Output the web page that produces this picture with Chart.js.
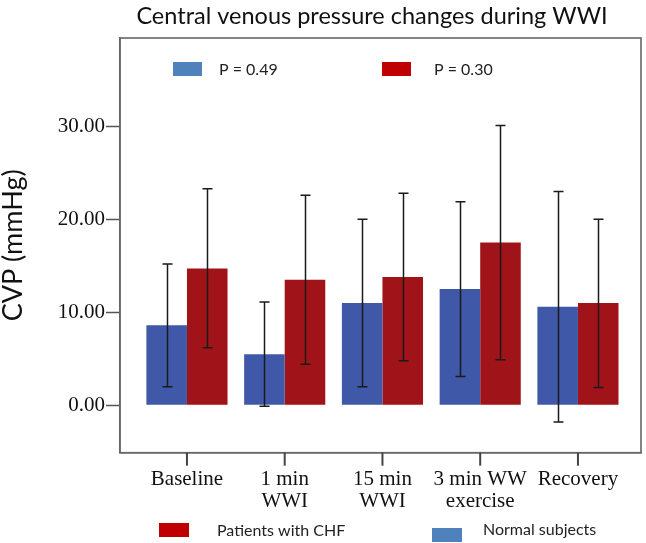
<!DOCTYPE html>
<html>
<head>
<meta charset="utf-8">
<script src="https://cdn.jsdelivr.net/npm/chart.js@4/dist/chart.umd.min.js"></script>
<style>
  html, body { margin: 0; padding: 0; background: #ffffff; }
  #wrap { width: 646px; height: 543px; position: relative; }
</style>
</head>
<body>
<div id="wrap"><canvas id="c" width="646" height="543"></canvas></div>
<script>
// ---- data ----
const categories = [["Baseline"], ["1 min", "WWI"], ["15 min", "WWI"], ["3 min WW", "exercise"], ["Recovery"]];
const normalMean = [8.6, 5.5, 11.0, 12.5, 10.6];
const normalLow  = [2.0, -0.1, 2.0, 3.1, -1.8];
const normalHigh = [15.2, 11.1, 20.0, 21.9, 23.0];
const chfMean = [14.7, 13.5, 13.8, 17.5, 11.0];
const chfLow  = [6.2, 4.4, 4.8, 4.9, 1.9];
const chfHigh = [23.3, 22.6, 22.8, 30.1, 20.0];
const yTicks = [0, 10, 20, 30];
const titleText = "Central venous pressure changes during WWI";
const yTitle = "CVP (mmHg)";
const topLegend = [{text: "P = 0.49", color: "#4F81BD"}, {text: "P = 0.30", color: "#C00000"}];
const bottomLegend = [{text: "Patients with CHF", color: "#C00000"}, {text: "Normal subjects", color: "#4F81BD"}];

const toPoints = arr => arr.map((v, i) => ({x: i, y: v}));

const decorPlugin = {
  id: 'decor',
  afterDatasetsDraw(chart) {
    const ctx = chart.ctx;
    const y = chart.scales.y;
    const sets = [[normalLow, normalHigh], [chfLow, chfHigh]];
    ctx.save();
    ctx.strokeStyle = '#1a1a1a';
    ctx.lineWidth = 1.5;
    sets.forEach((pair, di) => {
      const meta = chart.getDatasetMeta(di);
      meta.data.forEach((bar, i) => {
        const x = Math.round(bar.x) + 0.5;
        const yl = y.getPixelForValue(pair[0][i]);
        const yh = y.getPixelForValue(pair[1][i]);
        ctx.beginPath();
        ctx.moveTo(x, yl); ctx.lineTo(x, yh);
        ctx.moveTo(x - 5, yl); ctx.lineTo(x + 5, yl);
        ctx.moveTo(x - 5, yh); ctx.lineTo(x + 5, yh);
        ctx.stroke();
      });
    });
    ctx.restore();
  },
  afterDraw(chart) {
    const ctx = chart.ctx;
    const a = chart.chartArea;
    const xs = chart.scales.x;
    ctx.save();
    // plot frame
    ctx.strokeStyle = '#666666';
    ctx.lineWidth = 1.6;
    ctx.strokeRect(a.left, a.top, a.right - a.left, a.bottom - a.top);
    // x-axis tick marks at each category position (taken from the x scale)
    ctx.strokeStyle = '#444444';
    ctx.lineWidth = 2;
    xs.ticks.forEach(t => {
      const px = xs.getPixelForValue(t.value);
      ctx.beginPath();
      ctx.moveTo(px, a.bottom);
      ctx.lineTo(px, a.bottom + 13);
      ctx.stroke();
    });
    // title
    ctx.fillStyle = '#111111';
    ctx.font = '23.5px Lato';
    ctx.textAlign = 'center';
    ctx.textBaseline = 'middle';
    ctx.fillText(titleText, 372, 16);
    // top legend (inside frame)
    ctx.font = '16px Lato';
    ctx.textAlign = 'left';
    const topPos = [[173, 219], [382, 434]];
    topLegend.forEach((item, i) => {
      ctx.fillStyle = item.color;
      ctx.fillRect(topPos[i][0], 62, 29, 14);
      ctx.fillStyle = '#222222';
      ctx.fillText(item.text, topPos[i][1], 70);
    });
    // bottom legend
    const botPos = [[159, 523, 217, 531], [432, 528, 483, 530]];
    bottomLegend.forEach((item, i) => {
      ctx.fillStyle = item.color;
      ctx.fillRect(botPos[i][0], botPos[i][1], 30, 14);
      ctx.fillStyle = '#222222';
      ctx.fillText(item.text, botPos[i][2], botPos[i][3]);
    });
    ctx.restore();
  }
};

new Chart(document.getElementById('c'), {
  type: 'bar',
  data: {
    datasets: [
      { label: 'Normal subjects', data: toPoints(normalMean), backgroundColor: '#3F58A8', borderWidth: 0,
        categoryPercentage: 0.83, barPercentage: 1.0 },
      { label: 'Patients with CHF', data: toPoints(chfMean), backgroundColor: '#A01419', borderWidth: 0,
        categoryPercentage: 0.83, barPercentage: 1.0 }
    ]
  },
  options: {
    responsive: false,
    animation: false,
    devicePixelRatio: 1,
    layout: { padding: { left: 0, right: 5, top: 38, bottom: 0 } },
    plugins: {
      legend: { display: false },
      title: { display: false },
      tooltip: { enabled: false }
    },
    scales: {
      x: {
        type: 'linear',
        min: -0.685,
        max: 4.645,
        offset: false,
        afterFit(scale) { scale.height = 90.3; },
        afterBuildTicks(scale) { scale.ticks = categories.map((c, i) => ({value: i})); },
        border: { display: true, color: '#666666', width: 1.5 },
        grid: { display: false, tickLength: 12 },
        ticks: {
          autoSkip: false,
          maxRotation: 0,
          minRotation: 0,
          padding: 4,
          color: '#111111',
          font: { family: 'Liberation Serif', size: 21, lineHeight: 1.03 },
          callback: (v) => categories[v]
        }
      },
      y: {
        min: -5.1,
        max: 39.5,
        afterFit(scale) { scale.width = 120; },
        afterBuildTicks(scale) { scale.ticks = yTicks.map(v => ({value: v})); },
        border: { display: true, color: '#666666', width: 1.5 },
        grid: { offset: false, drawOnChartArea: false, drawTicks: true, tickLength: 14, tickColor: '#555555', tickWidth: 1.5 },
        ticks: {
          padding: 1,
          color: '#111111',
          font: { family: 'Liberation Serif', size: 21 },
          callback: (v) => Number(v).toFixed(2)
        },
        title: {
          display: true,
          text: yTitle,
          color: '#111111',
          font: { family: 'Lato', size: 27, lineHeight: 1.0 },
          padding: { top: 0, bottom: 0 }
        }
      }
    }
  },
  plugins: [decorPlugin]
});
</script>
</body>
</html>
